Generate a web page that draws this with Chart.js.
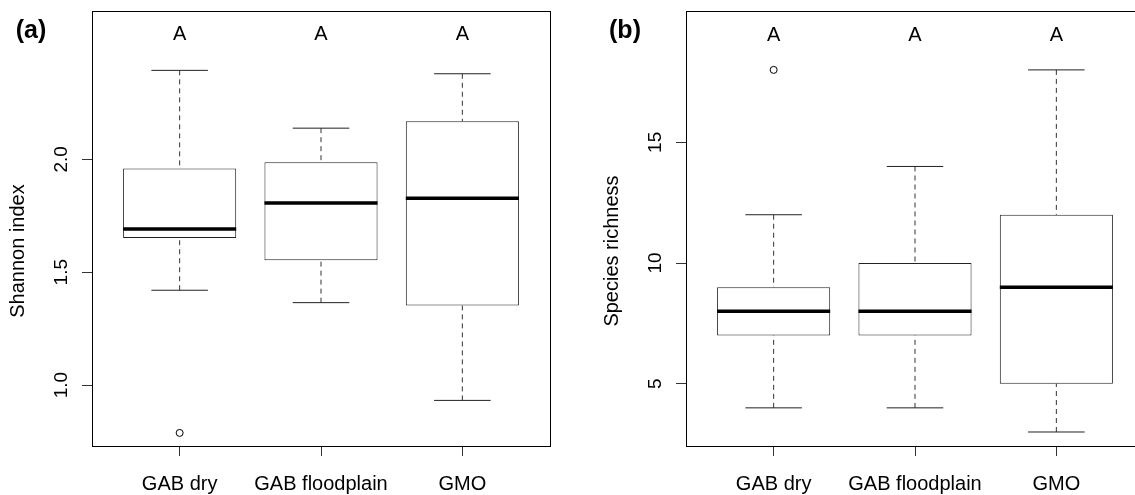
<!DOCTYPE html>
<html>
<head>
<meta charset="utf-8">
<script src="https://cdn.jsdelivr.net/npm/chart.js@4.4.0/dist/chart.umd.min.js"></script>
<style>
  body { margin: 0; background: #fff; overflow: hidden; width: 1135px; height: 495px; position: relative; }
  canvas { position: absolute; top: 0; }
  #chartA { left: 0; }
  #chartB { left: 560px; }
</style>
</head>
<body>
<canvas id="chartA" width="560" height="495"></canvas>
<canvas id="chartB" width="594" height="495"></canvas>
<script>
// 分組
const groups = ['GAB dry', 'GAB floodplain', 'GMO'];
const letters = ['A', 'A', 'A'];

// (a) Shannon index
const shannonLow = [1.42, 1.365, 0.932];
const shannonQ1 = [1.651, 1.553, 1.352];
const shannonMed = [1.691, 1.806, 1.827];
const shannonQ3 = [1.959, 1.987, 2.169];
const shannonHigh = [2.394, 2.138, 2.379];
const shannonOut = [[0.788], [], []];
const shannonTicks = [1.0, 1.5, 2.0];
const shannonTickLabels = ['1.0', '1.5', '2.0'];

// (b) Species richness
const richLow = [4, 4, 3];
const richQ1 = [7, 7, 5];
const richMed = [8, 8, 9];
const richQ3 = [9, 10, 12];
const richHigh = [12, 14, 18];
const richOut = [[18], [], []];
const richTicks = [5, 10, 15];
const richTickLabels = ['5', '10', '15'];

const FONT = '"Liberation Sans", Arial, Helvetica, sans-serif';
Chart.defaults.font.family = FONT;

// 線段資料 (null 斷開)
function segs(pairs) {
  let out = [];
  pairs.forEach(p => { out.push(p[0], p[1], { x: p[0].x, y: null }); });
  return out;
}

function makePanel(id, cfg) {
  let n = groups.length;
  let medLines = segs(cfg.med.map((m, i) => [{ x: i + 0.6, y: m }, { x: i + 1.4, y: m }]));
  let whiskers = segs([].concat(...cfg.med.map((m, i) => [
    [{ x: i + 1, y: cfg.high[i] }, { x: i + 1, y: cfg.q3[i] }],
    [{ x: i + 1, y: cfg.low[i] }, { x: i + 1, y: cfg.q1[i] }]
  ])));
  let caps = segs([].concat(...cfg.med.map((m, i) => [
    [{ x: i + 0.8, y: cfg.high[i] }, { x: i + 1.2, y: cfg.high[i] }],
    [{ x: i + 0.8, y: cfg.low[i] }, { x: i + 1.2, y: cfg.low[i] }]
  ])));
  let outliers = [];
  cfg.out.forEach((arr, i) => arr.forEach(v => outliers.push({ x: i + 1, y: v })));

  // 外框、旋轉刻度、標題
  let decor = {
    id: 'decor',
    afterDraw(chart) {
      let ctx = chart.ctx, a = chart.chartArea;
      let xs = chart.scales.x, ys = chart.scales.y;
      ctx.save();
      ctx.strokeStyle = '#000';
      ctx.lineWidth = 1;
      ctx.strokeRect(Math.round(a.left) + 0.5, Math.round(a.top) + 0.5,
        Math.round(a.right - a.left), Math.round(a.bottom - a.top));
      ctx.fillStyle = '#000';
      ctx.textAlign = 'center';
      ctx.textBaseline = 'middle';
      ctx.font = '19px ' + FONT;
      ys.ticks.forEach((t, i) => {
        ctx.save();
        ctx.translate(a.left - 30, ys.getPixelForValue(t.value));
        ctx.rotate(-Math.PI / 2);
        ctx.fillText(cfg.tickLabels[i], 0, 0);
        ctx.restore();
      });
      ctx.font = '20px ' + FONT;
      ctx.save();
      ctx.translate(a.left - 73.5, 251);
      ctx.rotate(-Math.PI / 2);
      ctx.fillText(cfg.title, 0, 0);
      ctx.restore();
      letters.forEach((l, i) => {
        ctx.fillText(l, xs.getPixelForValue(i + 1), ys.getPixelForValue(cfg.letterY));
      });
      ctx.font = 'bold 25px ' + FONT;
      ctx.fillText(cfg.tag, a.left - 61, 31.5);
      ctx.restore();
    }
  };

  return new Chart(document.getElementById(id), {
    type: 'bar',
    data: {
      datasets: [
        {
          type: 'line', data: medLines, borderColor: '#000', borderWidth: 3.5,
          pointRadius: 0, spanGaps: false, order: 1
        },
        {
          type: 'line', data: outliers, showLine: false, pointRadius: 3.5,
          pointBackgroundColor: '#fff', pointBorderColor: '#000', pointBorderWidth: 1, order: 2
        },
        {
          type: 'line', data: caps, borderColor: '#222', borderWidth: 1,
          pointRadius: 0, spanGaps: false, order: 3
        },
        {
          type: 'line', data: whiskers, borderColor: '#333', borderWidth: 1, borderDash: [5, 4],
          pointRadius: 0, spanGaps: false, order: 4
        },
        {
          type: 'bar',
          data: groups.map((g, i) => ({ x: i + 1, y: [cfg.q1[i], cfg.q3[i]] })),
          backgroundColor: '#fff', borderColor: '#222', borderWidth: 1, borderSkipped: false,
          barPercentage: 0.8, categoryPercentage: 1, order: 5
        }
      ]
    },
    options: {
      responsive: false,
      animation: false,
      devicePixelRatio: 1,
      layout: { padding: { top: 11, right: 10, left: 0, bottom: 0 } },
      plugins: { legend: { display: false }, tooltip: { enabled: false } },
      scales: {
        x: {
          type: 'linear', min: 0.38, max: 3.62, offset: false,
          afterBuildTicks: s => { s.ticks = groups.map((g, i) => ({ value: i + 1 })); },
          afterFit: s => { s.height = 49; },
          ticks: {
            callback: (v, i) => groups[i], autoSkip: false, maxRotation: 0,
            color: '#000', font: { size: 20 }, padding: 16
          },
          grid: { display: true, drawOnChartArea: false, drawTicks: true, tickLength: 10, tickColor: '#333', offset: false },
          border: { display: true, color: '#000' }
        },
        y: {
          type: 'linear', min: cfg.yMin, max: cfg.yMax,
          afterBuildTicks: s => { s.ticks = cfg.ticks.map(v => ({ value: v })); },
          afterFit: s => { s.width = cfg.axisWidth; },
          ticks: { display: false },
          grid: { display: true, drawOnChartArea: false, drawTicks: true, tickLength: 10, tickColor: '#333' },
          border: { display: true, color: '#000' }
        }
      }
    },
    plugins: [decor]
  });
}

makePanel('chartA', {
  tag: '(a)', title: 'Shannon index',
  low: shannonLow, q1: shannonQ1, med: shannonMed, q3: shannonQ3, high: shannonHigh, out: shannonOut,
  ticks: shannonTicks, tickLabels: shannonTickLabels,
  yMin: 0.73, yMax: 2.657, letterY: 2.551, axisWidth: 92
});

makePanel('chartB', {
  tag: '(b)', title: 'Species richness',
  low: richLow, q1: richQ1, med: richMed, q3: richQ3, high: richHigh, out: richOut,
  ticks: richTicks, tickLabels: richTickLabels,
  yMin: 2.42, yMax: 20.44, letterY: 19.44, axisWidth: 126
});
</script>
</body>
</html>
